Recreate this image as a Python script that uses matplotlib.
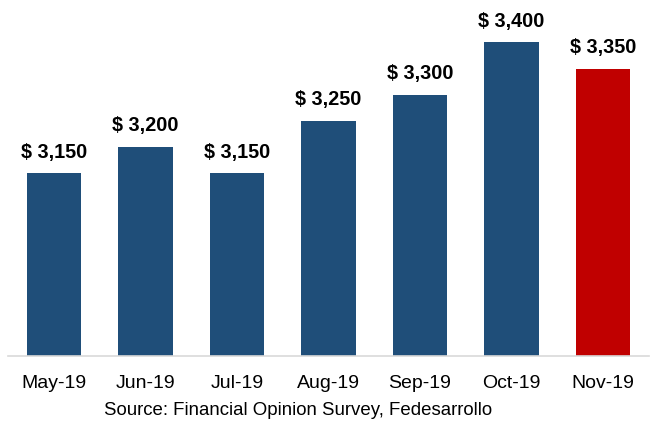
import matplotlib
matplotlib.use("Agg")
import matplotlib.pyplot as plt

categories = ["May-19", "Jun-19", "Jul-19", "Aug-19", "Sep-19", "Oct-19", "Nov-19"]
values = [3150, 3200, 3150, 3250, 3300, 3400, 3350]
labels = ["$ 3,150", "$ 3,200", "$ 3,150", "$ 3,250", "$ 3,300", "$ 3,400", "$ 3,350"]
colors = ["#1F4E79"] * 6 + ["#C00000"]
source = "Source: Financial Opinion Survey, Fedesarrollo"

plt.rcParams['font.family'] = ['Liberation Sans', 'DejaVu Sans']

W, H = 657, 427
fig = plt.figure(figsize=(W / 100, H / 100), dpi=100)
ax = fig.add_axes([8.25 / W, (H - 357) / H, 640.5 / W, 357 / H])
x = list(range(len(categories)))
ax.bar(x, values, width=0.6, color=colors, zorder=2)
ax.set_xlim(-0.5, len(categories) - 0.5)
ax.set_ylim(2800, 3483)
for xi, v, lab in zip(x, values, labels):
    ax.annotate(lab, (xi, v), xytext=(0, 9), textcoords="offset points",
                ha="center", va="bottom", fontsize=14.3, fontweight="bold", color="black")
ax.set_xticks(x)
ax.set_xticklabels(categories, fontsize=14)
ax.tick_params(axis="x", length=0, pad=13)
ax.set_yticks([])
for s in ["top", "right", "left"]:
    ax.spines[s].set_visible(False)
ax.spines["bottom"].set_color("#D9D9D9")
ax.spines["bottom"].set_linewidth(1.2)
fig.text(298 / W, 1 - 411 / H, source, ha="center", va="center", fontsize=13.4)
fig.savefig("out.png", dpi=100)
